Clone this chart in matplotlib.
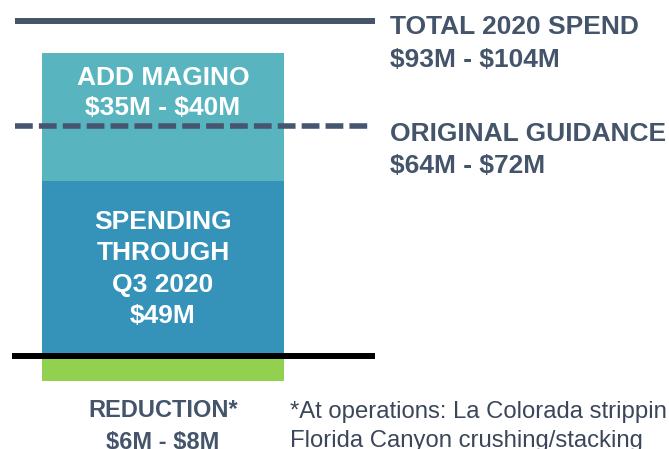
import matplotlib
matplotlib.use('Agg')
import matplotlib.pyplot as plt

plt.rcParams['font.family'] = ['Liberation Sans', 'DejaVu Sans']
plt.rcParams['text.parse_math'] = False

# values in $M
spend_q3 = 49.0
add_magino = 36.0
reduction = 7.0
original_guidance = 64.5
total_spend = 93.7

bar_labels = ['SPENDING\nTHROUGH\nQ3 2020\n$49M', 'ADD MAGINO\n$35M - $40M']
right_labels = ['TOTAL 2020 SPEND\n$93M - $104M', 'ORIGINAL GUIDANCE\n$64M - $72M']
reduction_label = 'REDUCTION*\n$6M - $8M'
footnote = '*At operations: La Colorada strippin\nFlorida Canyon crushing/stacking'

teal = '#58b5bf'
blue = '#3593ba'
green = '#92d050'
slate = '#44546a'

fig = plt.figure(figsize=(6.69, 4.49), dpi=100)
ax = fig.add_axes([0, 0, 1, 1])
ax.set_xlim(0, 669)
ax.set_ylim(-26.0, 99.7)
ax.axis('off')

bx, bw = 163, 242
ax.bar(bx, spend_q3, width=bw, bottom=0, color=blue, zorder=1)
ax.bar(bx, add_magino, width=bw, bottom=spend_q3, color=teal, zorder=1)
ax.bar(bx, -reduction, width=bw, bottom=0, color=green, zorder=1)

ax.plot([15, 375], [total_spend, total_spend], color=slate, lw=4.3, solid_capstyle='butt')
ax.plot([15, 368], [original_guidance, original_guidance], color='#465670', lw=4,
        linestyle=(0, (3.2, 1.1)))
ax.plot([12, 375], [0, 0], color='black', lw=4.3, solid_capstyle='butt', zorder=3)

ax.text(bx, 24.4, bar_labels[0], color='white', fontsize=19, fontweight='bold',
        ha='center', va='center', linespacing=1.4)
ax.text(bx, 73.6, bar_labels[1], color='white', fontsize=19, fontweight='bold',
        ha='center', va='center', linespacing=1.33)

ax.text(390, 87.5, right_labels[0], color=slate, fontsize=19, fontweight='bold',
        ha='left', va='center', linespacing=1.5)
ax.text(390, 57.7, right_labels[1], color=slate, fontsize=19, fontweight='bold',
        ha='left', va='center', linespacing=1.42)

ax.text(163, -19.7, reduction_label, color=slate, fontsize=17, fontweight='bold',
        ha='center', va='center', linespacing=1.45)
ax.text(290, -19.7, footnote, color='#3b4659', fontsize=17.2,
        ha='left', va='center', linespacing=1.42, clip_on=False)

fig.savefig('out.png', dpi=100)
